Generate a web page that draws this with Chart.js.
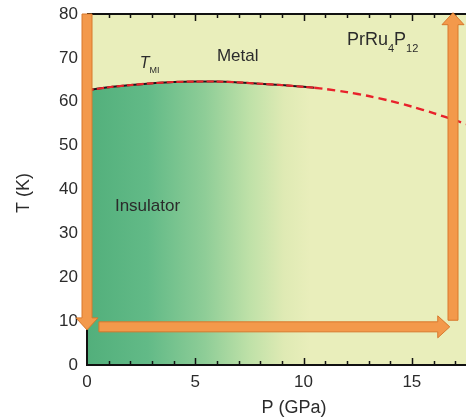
<!DOCTYPE html>
<html>
<head>
<meta charset="utf-8">
<script src="https://cdn.jsdelivr.net/npm/chart.js@4.4.1/dist/chart.umd.min.js"></script>
<style>
  html, body { margin: 0; padding: 0; background: #fff; }
  #wrap { width: 466px; height: 420px; }
</style>
</head>
<body>
<div id="wrap"><canvas id="phaseChart" width="466" height="420"></canvas></div>
<script>
  // T_MI boundary (solid part, measured) and its dashed extrapolation
  const tmiP = [0, 1, 2, 3, 4, 5, 6, 7, 8, 9, 10, 10.5];
  const tmiT = [62.6, 63.3, 63.8, 64.2, 64.5, 64.6, 64.6, 64.4, 64.1, 63.8, 63.4, 63.2];
  const extP = [10.5, 11, 12, 13, 14, 15, 16, 17, 17.5];
  const extT = [63.2, 62.9, 62.2, 61.3, 60.2, 58.9, 57.4, 55.8, 54.9];

  // orange path arrows: tail -> head, in (GPa, K)
  const arrowTailP = [0, 0.55, 16.9];
  const arrowTailT = [80, 8.7, 10.2];
  const arrowHeadP = [0, 16.75, 16.9];
  const arrowHeadT = [8.0, 8.7, 80.3];

  const xLabelTicks = [0, 5, 10, 15];
  const yLabelTicks = [0, 10, 20, 30, 40, 50, 60, 70, 80];

  const FONT = "'Liberation Sans', Arial, Helvetica, sans-serif";
  Chart.defaults.font.family = FONT;

  function pts(xs, ys) {
    return xs.map((x, i) => ({ x: x, y: ys[i] }));
  }

  function insulatorFill(context) {
    const chart = context.chart;
    const area = chart.chartArea;
    if (!area) return '#7cc58f';
    const g = chart.ctx.createLinearGradient(area.left, 0, area.right, 0);
    g.addColorStop(0.00, '#52af7b');
    g.addColorStop(0.16, '#62ba87');
    g.addColorStop(0.31, '#8ecd97');
    g.addColorStop(0.43, '#bfe1a8');
    g.addColorStop(0.52, '#dfeab4');
    g.addColorStop(0.59, '#e9eebb');
    g.addColorStop(1.00, '#e9eebb');
    return g;
  }

  function drawArrow(ctx, x1, y1, x2, y2) {
    const len = Math.hypot(x2 - x1, y2 - y1);
    const ang = Math.atan2(y2 - y1, x2 - x1);
    const shaft = 5, head = 11, headLen = 12;
    ctx.save();
    ctx.translate(x1, y1);
    ctx.rotate(ang);
    ctx.beginPath();
    ctx.moveTo(0, -shaft);
    ctx.lineTo(len - headLen, -shaft);
    ctx.lineTo(len - headLen, -head);
    ctx.lineTo(len, 0);
    ctx.lineTo(len - headLen, head);
    ctx.lineTo(len - headLen, shaft);
    ctx.lineTo(0, shaft);
    ctx.closePath();
    ctx.fillStyle = '#f3994b';
    ctx.fill();
    ctx.lineWidth = 1;
    ctx.strokeStyle = '#d8782c';
    ctx.stroke();
    ctx.restore();
  }

  function drawSubText(ctx, x, y, parts) {
    // parts: [text, size, dy, italic]
    let cx = x;
    parts.forEach(p => {
      ctx.font = (p[3] ? 'italic ' : '') + p[1] + 'px ' + FONT;
      ctx.fillText(p[0], cx, y + p[2]);
      cx += ctx.measureText(p[0]).width;
    });
  }

  const decor = {
    id: 'decor',
    beforeDraw(chart) {
      const a = chart.chartArea;
      const ctx = chart.ctx;
      ctx.save();
      ctx.fillStyle = '#e9eebb';
      ctx.fillRect(a.left, a.top, a.right - a.left, a.bottom - a.top);
      ctx.restore();
    },
    afterDatasetsDraw(chart) {
      const a = chart.chartArea;
      const ctx = chart.ctx;
      const xs = chart.scales.x;
      const ys = chart.scales.y;
      ctx.save();

      // axis frame (left, bottom, top)
      ctx.strokeStyle = '#111';
      ctx.lineWidth = 2;
      ctx.beginPath();
      ctx.moveTo(a.left, a.top);
      ctx.lineTo(a.right, a.top);
      ctx.moveTo(a.left, a.top);
      ctx.lineTo(a.left, a.bottom);
      ctx.lineTo(a.right, a.bottom);
      ctx.stroke();

      // inward ticks on bottom and top: every 1 GPa, longer every 5
      ctx.lineWidth = 1.5;
      ctx.beginPath();
      for (let v = 1; v <= Math.floor(xs.max); v++) {
        const px = Math.round(xs.getPixelForValue(v)) + 0.5;
        const l = v % 5 === 0 ? 7 : 4;
        ctx.moveTo(px, a.bottom);
        ctx.lineTo(px, a.bottom - l);
        ctx.moveTo(px, a.top);
        ctx.lineTo(px, a.top + l);
      }
      // small ticks on the left axis
      yLabelTicks.forEach(v => {
        if (v === 0 || v === 80) return;
        const py = Math.round(ys.getPixelForValue(v)) + 0.5;
        ctx.moveTo(a.left, py);
        ctx.lineTo(a.left + 3, py);
      });
      ctx.stroke();

      // orange arrows
      for (let i = 0; i < arrowTailP.length; i++) {
        drawArrow(ctx,
          xs.getPixelForValue(arrowTailP[i]), ys.getPixelForValue(arrowTailT[i]),
          xs.getPixelForValue(arrowHeadP[i]), ys.getPixelForValue(arrowHeadT[i]));
      }

      // labels inside the plot
      ctx.fillStyle = '#2b2b2b';
      ctx.textBaseline = 'alphabetic';
      ctx.textAlign = 'center';
      ctx.font = '17px ' + FONT;
      ctx.fillText('Metal', xs.getPixelForValue(6.96), ys.getPixelForValue(69.2));
      ctx.textAlign = 'left';
      ctx.font = '17px ' + FONT;
      ctx.fillText('Insulator', xs.getPixelForValue(1.29), ys.getPixelForValue(35.1));
      drawSubText(ctx, xs.getPixelForValue(2.44), ys.getPixelForValue(67.7),
        [['T', 16, 0, true], ['MI', 9, 5, false]]);
      drawSubText(ctx, xs.getPixelForValue(12.0), ys.getPixelForValue(72.9),
        [['PrRu', 18, 0, false], ['4', 11, 7, false], ['P', 18, 0, false], ['12', 11, 7, false]]);

      // axis titles
      ctx.font = '18px ' + FONT;
      ctx.textAlign = 'center';
      ctx.textBaseline = 'middle';
      ctx.fillText('P (GPa)', 294, 408);
      ctx.translate(24, 193);
      ctx.rotate(-Math.PI / 2);
      ctx.fillText('T (K)', 0, 0);
      ctx.restore();
    }
  };

  const ctx = document.getElementById('phaseChart').getContext('2d');
  const phaseChart = new Chart(ctx, {
    type: 'line',
    data: {
      datasets: [
        {
          // insulating region under the boundary
          data: pts(tmiP.concat(extP.slice(1)), tmiT.concat(extT.slice(1))),
          borderWidth: 0,
          pointRadius: 0,
          tension: 0.3,
          fill: 'start',
          backgroundColor: insulatorFill,
          order: 4
        },
        {
          data: pts(tmiP, tmiT),
          borderColor: '#1a1a1a',
          borderWidth: 2,
          pointRadius: 0,
          tension: 0.3,
          fill: false,
          order: 3
        },
        {
          data: pts(tmiP, tmiT),
          borderColor: '#e8212b',
          borderWidth: 2.2,
          borderDash: [7, 3],
          pointRadius: 0,
          tension: 0.3,
          fill: false,
          order: 2
        },
        {
          data: pts(extP, extT),
          borderColor: '#e8212b',
          borderWidth: 2.4,
          borderDash: [8, 5],
          pointRadius: 0,
          tension: 0.3,
          fill: false,
          order: 1
        }
      ]
    },
    options: {
      responsive: false,
      animation: false,
      devicePixelRatio: 1,
      layout: { padding: { top: 14, right: 0, left: 0, bottom: 0 } },
      plugins: {
        legend: { display: false },
        tooltip: { enabled: false }
      },
      scales: {
        x: {
          type: 'linear',
          min: 0,
          max: 17.5,
          grid: { display: false, drawTicks: false },
          border: { display: false },
          afterFit: s => { s.height = 55; },
          afterBuildTicks: s => { s.ticks = xLabelTicks.map(v => ({ value: v })); },
          ticks: {
            autoSkip: false,
            maxRotation: 0,
            padding: 7,
            color: '#2b2b2b',
            font: { size: 17 }
          }
        },
        y: {
          type: 'linear',
          min: 0,
          max: 80,
          grid: { display: false, drawTicks: false },
          border: { display: false },
          afterFit: s => { s.width = 87; s.paddingTop = 0; s.paddingBottom = 0; },
          afterBuildTicks: s => { s.ticks = yLabelTicks.map(v => ({ value: v })); },
          ticks: {
            padding: 9,
            color: '#2b2b2b',
            font: { size: 17, lineHeight: 0.8 }
          }
        }
      }
    },
    plugins: [decor]
  });
</script>
</body>
</html>
